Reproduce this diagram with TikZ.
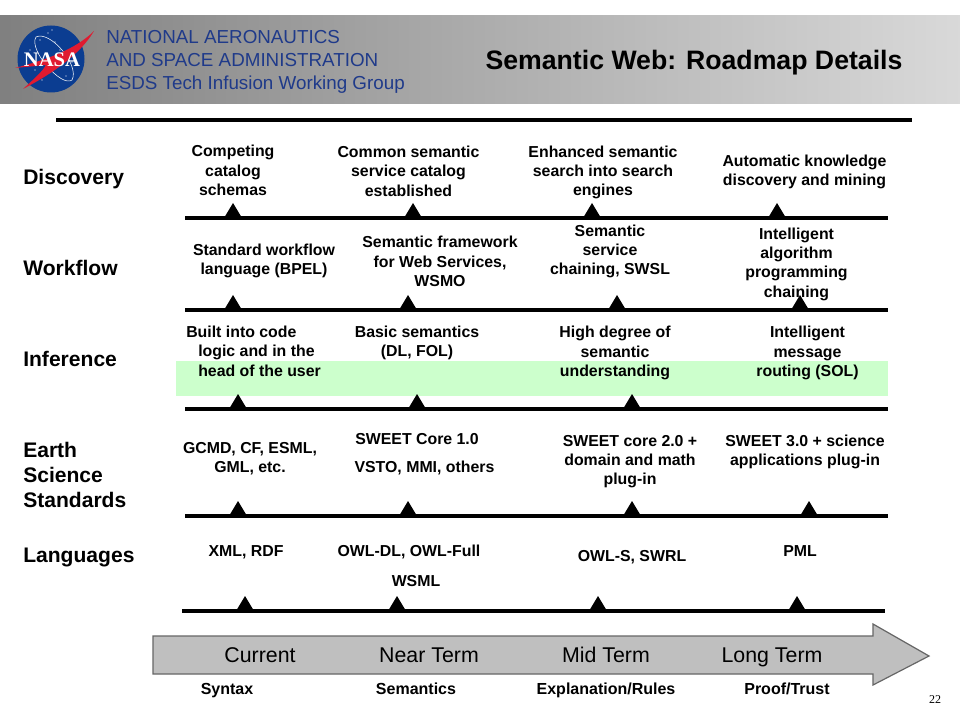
\documentclass[tikz,border=0pt]{standalone}
\usepackage{fontspec}
\setmainfont{Liberation Sans}
\newfontfamily\logofont{Liberation Serif}
\definecolor{navy}{HTML}{1F3A8A}
\definecolor{nasablue}{HTML}{0B3D91}
\definecolor{nasared}{HTML}{E01A30}
\definecolor{bandgreen}{HTML}{CCFFCC}
\tikzset{
  x=0.75pt,y=-0.75pt,
  lbl/.style={font=\fontsize{11.9}{14.5}\selectfont\bfseries,align=center,inner sep=0pt,text=black},
  lblone/.style={lbl,text height=0.72em,text depth=0.2em},
  rowlbl/.style={font=\fontsize{15.8}{19}\selectfont\bfseries,align=left,anchor=west,inner sep=0pt},
  term/.style={font=\fontsize{16}{16}\selectfont,inner sep=0pt,text height=0.72em,text depth=0.2em},
  topic/.style={font=\fontsize{12}{13}\selectfont\bfseries,inner sep=0pt,text height=0.72em,text depth=0.2em},
  hdr/.style={font=\fontsize{14.1}{17}\selectfont,text=navy,align=left,anchor=west,inner sep=0pt},
  rulebar/.style={line width=2.4pt}
}
\newcommand{\tick}[2]{\fill (#1-9,#2) -- (#1,#2-15) -- (#1+9,#2) -- cycle;}
\begin{document}
\begin{tikzpicture}
\useasboundingbox (0,0) rectangle (960,720);
\fill[white] (0,0) rectangle (960,720);
% header
\shade[left color=black!50,right color=black!15] (0,16) rectangle (960,104);
\fill[nasablue] (51,59) circle (33.5);
\foreach \a/\b in {40/40,48/33,55/42,60/50,35/70,42/80,66/76,72/62,76/50,30/50,52/30}{\fill[white] (\a,\b) circle (0.7);}
\draw[white,line width=0.4pt] (36,37) .. controls (50,30) and (80,65) .. (72,80) .. controls (62,88) and (28,50) .. (36,37);
\fill[nasared] (15,68) .. controls (45,60) and (75,50) .. (94,31) .. controls (80,55) and (50,75) .. (23,89) .. controls (35,78) and (42,72) .. (46,65) -- cycle;
\node[font=\fontsize{15.5}{15}\logofont\bfseries,text=white,inner sep=0pt] (nasa) at (52,60) {NASA};
\node[hdr] (org) at (106,62) {NATIONAL AERONAUTICS\\AND SPACE ADMINISTRATION\\ESDS Tech Infusion Working Group};
\node[font=\fontsize{20}{22}\selectfont\bfseries,inner sep=0pt] (title) at (694,63) {Semantic Web: Roadmap Details};
\draw[line width=3pt] (56,120) -- (912,120);
% band
\fill[bandgreen] (176,361) rectangle (888,396);
% rows
\node[rowlbl] (r1) at (23,179) {Discovery};
\node[rowlbl] (r2) at (23,268) {Workflow};
\node[rowlbl] (r3) at (23,359) {Inference};
\node[rowlbl] (r4) at (23,475) {Earth\\Science\\Standards};
\node[rowlbl] (r5) at (23,557) {Languages};
% timelines
\draw[rulebar] (185,218) -- (888,218);
\draw[rulebar] (185,310) -- (888,310);
\draw[rulebar] (185,409) -- (888,409);
\draw[rulebar] (185,516) -- (888,516);
\draw[rulebar] (182,611) -- (885,611);
\tick{233}{218}\tick{413}{218}\tick{592}{218}\tick{777}{218}
\tick{233}{310}\tick{408}{310}\tick{617}{310}\tick{800}{310}
\tick{238}{409}\tick{417}{409}\tick{632}{409}
\tick{238}{516}\tick{408}{516}\tick{632}{516}\tick{809}{516}
\tick{245}{611}\tick{397}{611}\tick{598}{611}\tick{797}{611}
% labels
\node[lbl] (a1) at (233,170.5) {Competing\\catalog\\schemas};
\node[lbl] (a2) at (408.5,171) {Common semantic\\service catalog\\established};
\node[lbl] (a3) at (603,172.5) {Enhanced semantic\\search into search\\engines};
\node[lbl] (a4) at (804.5,172) {Automatic knowledge\\discovery and mining};
\node[lbl] (b1) at (264,261) {Standard workflow\\language (BPEL)};
\node[lbl] (b2) at (440,261.5) {Semantic framework\\for Web Services,\\WSMO};
\node[lbl] (b3) at (610,251.5) {Semantic\\service\\chaining, SWSL};
\node[lbl] (b4) at (796.5,264) {Intelligent\\algorithm\\programming\\chaining};
\node[lbl,align=left,anchor=west] (c1) at (198,351) {\hspace*{-9pt}Built into code\\logic and in the\\head of the user};
\node[lbl] (c2) at (417,343) {Basic semantics\\(DL, FOL)};
\node[lbl] (c3) at (615,353) {High degree of\\semantic\\understanding};
\node[lbl] (c4) at (807.5,353) {Intelligent\\message\\routing (SOL)};
\node[lbl] (d1) at (250,458.5) {GCMD, CF, ESML,\\GML, etc.};
\node[lblone] (d2) at (417,441) {SWEET Core 1.0};
\node[lblone] (d2b) at (424.5,469) {VSTO, MMI, others};
\node[lbl] (d3) at (630,461.5) {SWEET core 2.0 +\\domain and math\\plug-in};
\node[lbl] (d4) at (805,452) {SWEET 3.0 + science\\applications plug-in};
\node[lblone] (e1) at (246,553) {XML, RDF};
\node[lblone] (e2) at (409,553) {OWL-DL, OWL-Full};
\node[lblone] (e2b) at (416,583) {WSML};
\node[lblone] (e3) at (632,558) {OWL-S, SWRL};
\node[lblone] (e4) at (800,553) {PML};
% arrow
\draw[fill=black!25,draw=black!60,line width=0.9pt] (153,636) -- (873,636) -- (873,624) -- (929,656) -- (873,685) -- (873,674) -- (153,674) -- cycle;
\node[term] (t1) at (260,659) {Current};
\node[term] (t2) at (429,659) {Near Term};
\node[term] (t3) at (606,659) {Mid Term};
\node[term] (t4) at (772,659) {Long Term};
\node[topic] (s1) at (227,691) {Syntax};
\node[topic] (s2) at (416,691) {Semantics};
\node[topic] (s3) at (606,691) {Explanation/Rules};
\node[topic] (s4) at (787,691) {Proof/Trust};
\node[font=\fontsize{9}{10}\logofont,inner sep=0pt] (pg) at (935,700) {22};
\end{tikzpicture}
\end{document}
